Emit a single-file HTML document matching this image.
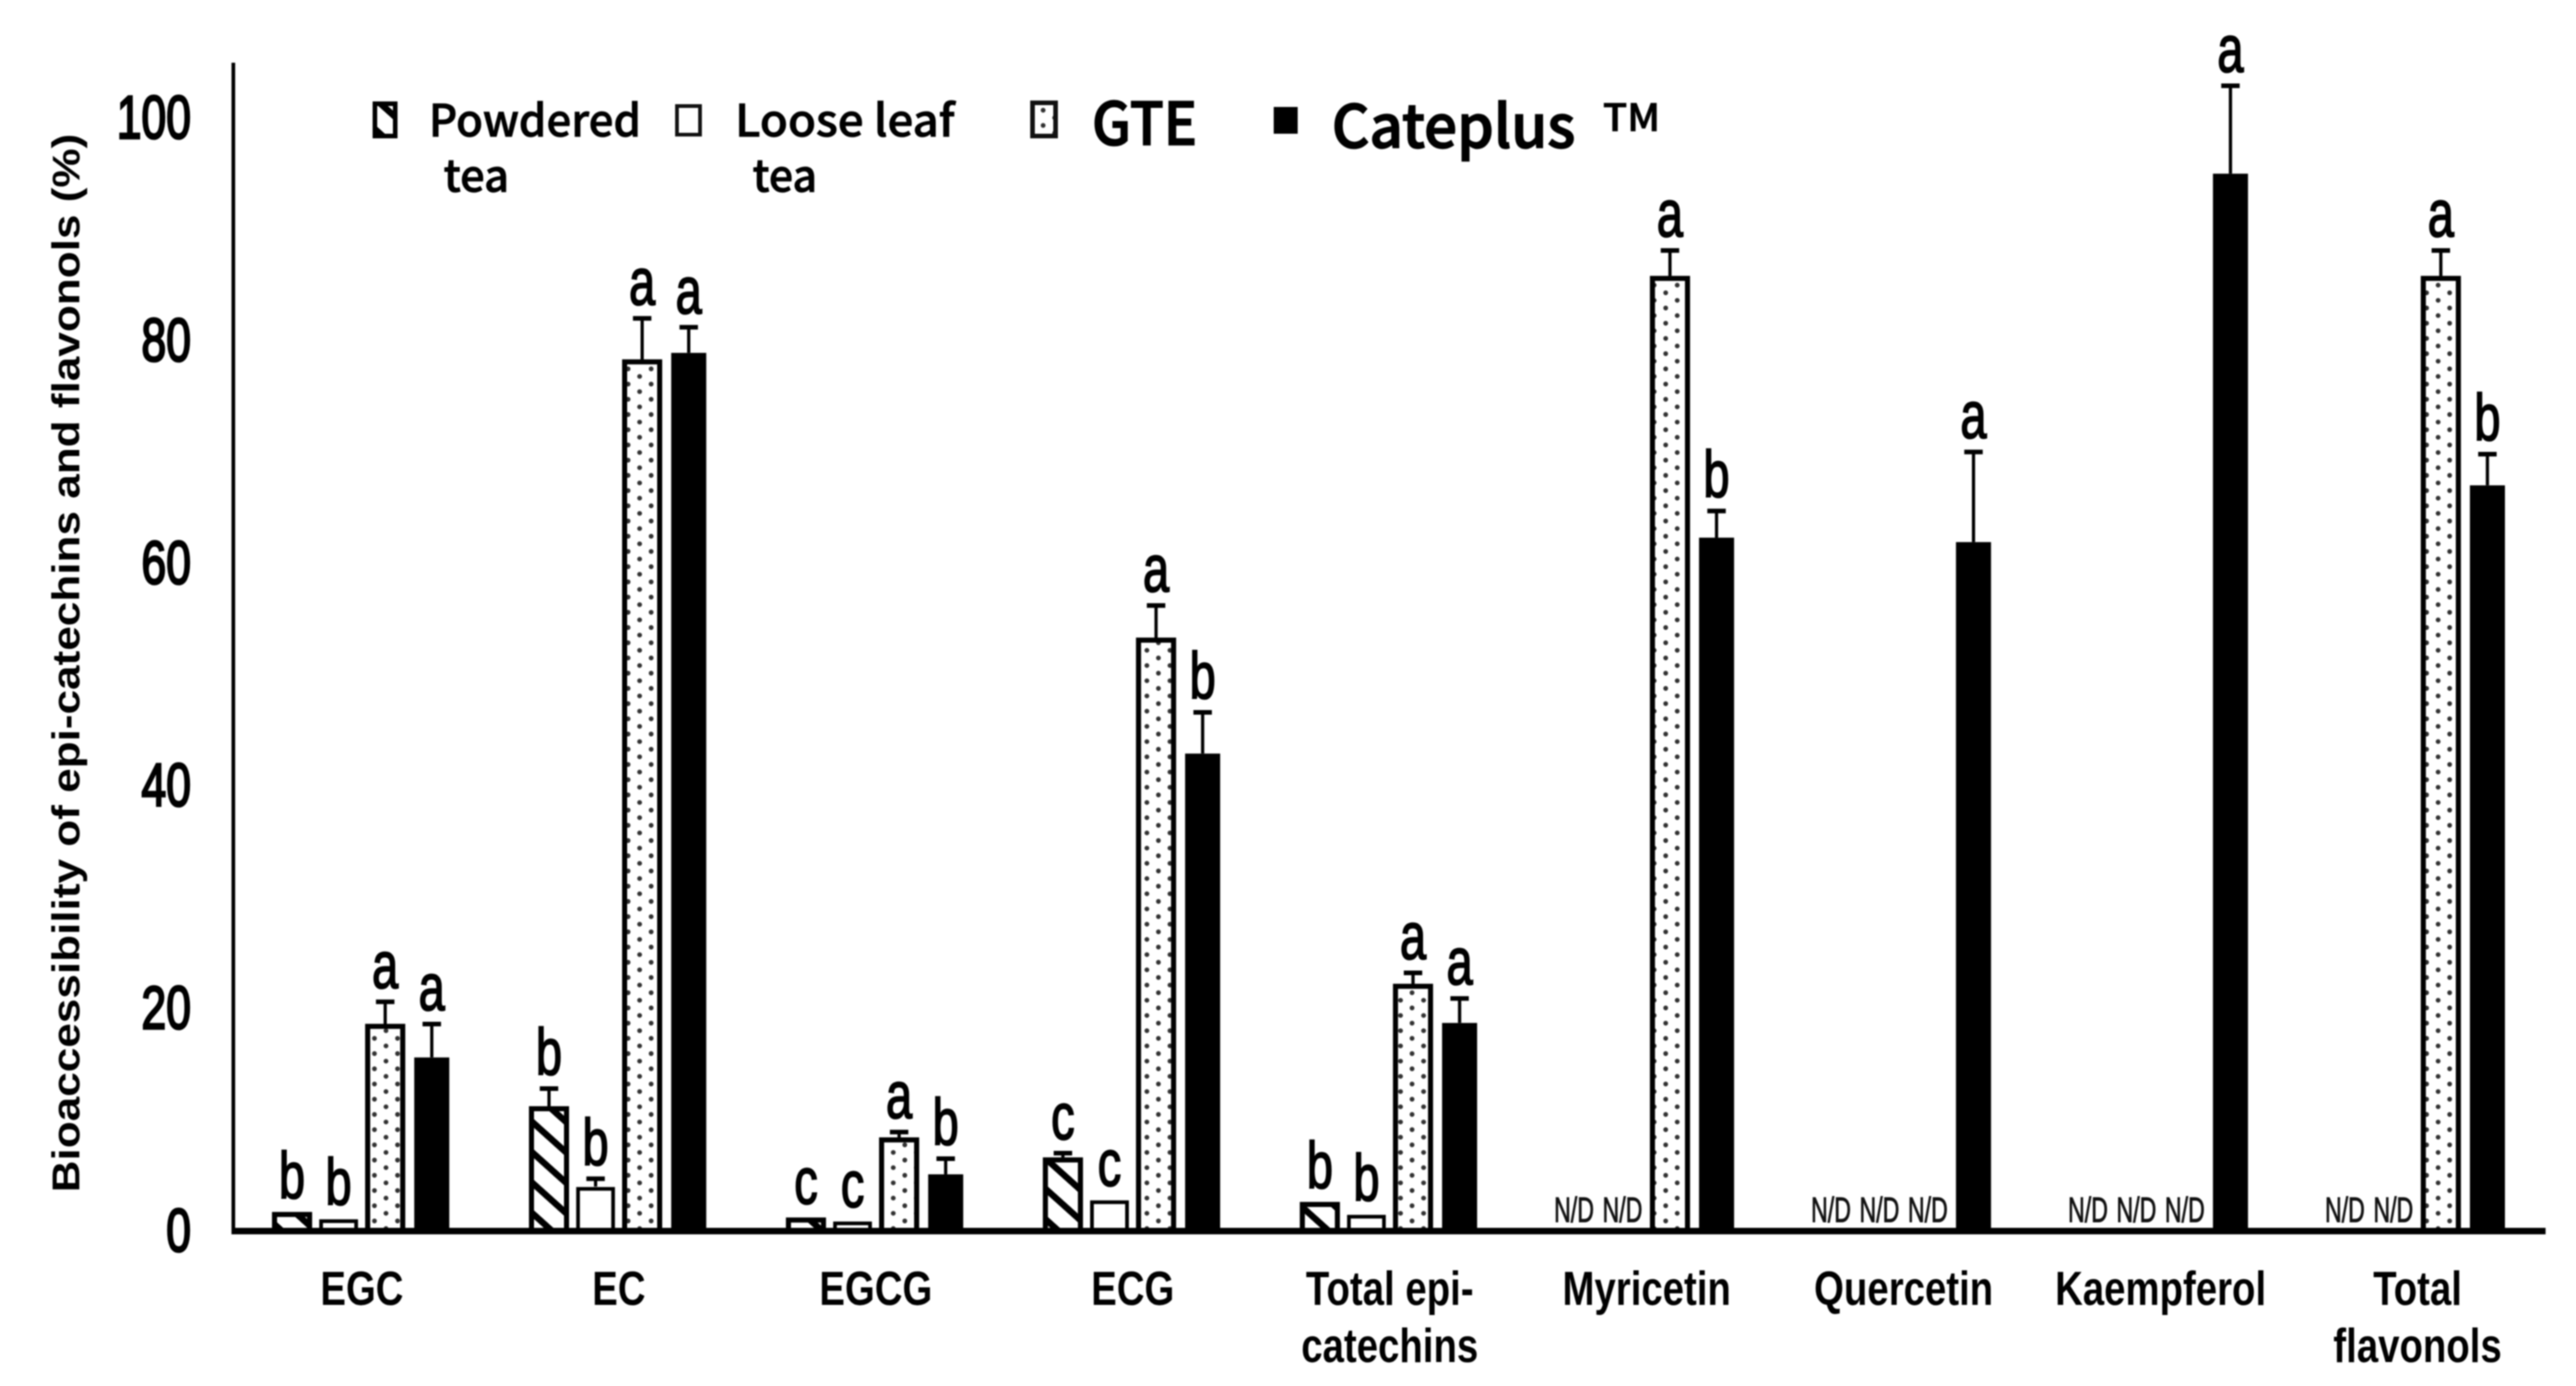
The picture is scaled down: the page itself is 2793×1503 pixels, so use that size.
<!DOCTYPE html>
<html lang="en">
<head>
<meta charset="utf-8">
<title>Bioaccessibility of epi-catechins and flavonols</title>
<style>
html,body{margin:0;padding:0;background:#fff;}
#chart{display:block;filter:blur(0.9px);}
text{fill:#000;font-family:"Liberation Sans",sans-serif;}
.tick{font-size:66px;font-weight:400;stroke:#000;stroke-width:2.6px;}
.cat{font-size:52px;font-weight:700;}
.sig{font-size:71px;font-weight:400;stroke:#000;stroke-width:1.8px;}
.nd{font-size:38px;fill:#111;stroke:#111;stroke-width:.9px;}
.ytitle{font-size:42px;font-weight:700;}
.leg{font-family:"Noto Sans CJK KR","Liberation Sans",sans-serif;font-weight:500;stroke:#000;stroke-width:.8px;}
.legk{font-family:"Noto Sans CJK KR","Liberation Sans",sans-serif;font-weight:500;stroke:#000;stroke-width:1.5px;}
</style>
</head>
<body>
<svg id="chart" xmlns="http://www.w3.org/2000/svg" width="2793" height="1503" viewBox="0 0 2793 1503">
  <defs>
    <pattern id="hatch" patternUnits="userSpaceOnUse" width="40" height="24.5" patternTransform="rotate(42)">
      <rect width="40" height="24.5" fill="#fff"/>
      <rect width="40" height="7" fill="#000"/>
    </pattern>
    <pattern id="dots" patternUnits="userSpaceOnUse" width="25" height="16.5">
      <rect width="25" height="16.5" fill="#fff"/>
      <circle cx="6" cy="4" r="2.6" fill="#333"/>
      <circle cx="18.5" cy="12.2" r="2.6" fill="#333"/>
    </pattern>
  </defs>

  <g id="plot"></g>

  <text class="ytitle" transform="translate(86,1293) rotate(-90)" textLength="1148" lengthAdjust="spacingAndGlyphs">Bioaccessibility of epi-catechins and flavonols (%)</text>

  <g>
    <g>
      <rect x="406.5" y="112.5" width="22" height="35" fill="url(#hatch)" stroke="#000" stroke-width="5"/>
      <text class="leg" x="465" y="148" font-size="48" textLength="230" lengthAdjust="spacingAndGlyphs">Powdered</text>
      <text class="leg" x="481" y="208" font-size="48" textLength="71" lengthAdjust="spacingAndGlyphs">tea</text>
    </g>
    <g>
      <rect x="734" y="115" width="25" height="31" fill="#fff" stroke="#111" stroke-width="4"/>
      <text class="leg" x="797" y="148" font-size="48" textLength="238" lengthAdjust="spacingAndGlyphs">Loose leaf</text>
      <text class="leg" x="816" y="208" font-size="48" textLength="70" lengthAdjust="spacingAndGlyphs">tea</text>
    </g>
    <g>
      <rect x="1119.5" y="111.5" width="25" height="36" fill="url(#dots)" stroke="#111" stroke-width="5"/>
      <text class="legk" x="1184" y="157" font-size="64" textLength="114" lengthAdjust="spacingAndGlyphs">GTE</text>
    </g>
    <g>
      <rect x="1381" y="116" width="26" height="29" fill="#000"/>
      <text class="legk" x="1444" y="160" font-size="64" textLength="264" lengthAdjust="spacingAndGlyphs">Cateplus</text>
      <text class="leg" x="1738" y="142" font-size="41" textLength="62" lengthAdjust="spacingAndGlyphs">TM</text>
    </g>
  </g>
</svg>

<script>
const categories = ["EGC", "EC", "EGCG", "ECG", "Total epi-|catechins", "Myricetin", "Quercetin", "Kaempferol", "Total|flavonols"];
const yTicks = [0, 20, 40, 60, 80, 100];

const powderedValues = [1.7, 11.2, 1.2, 6.6, 2.6, null, null, null, null];
const looseValues = [1.1, 4.0, 0.9, 2.8, 1.5, null, null, null, null];
const gteValues = [18.6, 78.3, 8.4, 53.3, 22.2, 85.8, null, null, 85.8];
const cateplusValues = [15.6, 78.9, 5.1, 42.9, 18.7, 62.3, 61.9, 95.0, 67.0];

const powderedErrors = [0, 1.6, 0, 0.4, 0, null, null, null, null];
const looseErrors = [0, 0.7, 0, 0, 0, null, null, null, null];
const gteErrors = [2.0, 3.7, 0.5, 2.9, 1.0, 2.3, null, null, 2.3];
const cateplusErrors = [3.0, 2.3, 1.4, 3.7, 2.2, 2.4, 8.1, 7.9, 2.8];

const powderedLetters = ["b", "b", "c", "c", "b", "", "", "", ""];
const looseLetters = ["b", "b", "c", "c", "b", "", "", "", ""];
const gteLetters = ["a", "a", "a", "a", "a", "a", "", "", "a"];
const cateplusLetters = ["a", "a", "b", "b", "a", "b", "a", "a", "b"];

const seriesNames = ["powdered-tea", "loose-leaf-tea", "gte", "cateplus"];
const seriesValues = [powderedValues, looseValues, gteValues, cateplusValues];
const seriesErrors = [powderedErrors, looseErrors, gteErrors, cateplusErrors];
const seriesLetters = [powderedLetters, looseLetters, gteLetters, cateplusLetters];

const NS = "http://www.w3.org/2000/svg";
const plot = document.getElementById("plot");
const yBase = 1335;
const yUnit = 12.07;
const letterGap = 15;
function yScale(v) { return yBase - v * yUnit; }
function catCenter(i) { return 392.4 + 278.6 * i; }
function barCenter(i, s) { return catCenter(i) + (s - 1.5) * 50.5; }
function make(tag, parent) {
  const el = document.createElementNS(NS, tag);
  parent.appendChild(el);
  return el;
}

// axes
const yAxis = make("line", plot);


yAxis.setAttribute("x1", 253);
yAxis.setAttribute("x2", 253);
yAxis.setAttribute("y1", 68);
yAxis.setAttribute("y2", yBase);
yAxis.setAttribute("stroke", "#000");
yAxis.setAttribute("stroke-width", 4);

yTicks.forEach(function (t) {
  const label = make("text", plot);
  
  
  label.setAttribute("class", "tick");
  label.setAttribute("text-anchor", "end");
  label.setAttribute("transform", "translate(207," + (yScale(t) + 22) + ") scale(0.73,1)");
  label.textContent = t;
});

// bars
seriesValues.forEach(function (values, s) {
  values.forEach(function (v, i) {
    const cx = barCenter(i, s);
    if (v === null) {
      if (seriesValues[3][i] === null) return;
      const nd = make("text", plot);
      
      
      nd.setAttribute("class", "nd");
      nd.setAttribute("text-anchor", "middle");
      nd.setAttribute("transform", "translate(" + (cx - 3 + s * 2) + "," + (yBase - 10) + ") scale(0.66,1)");
      nd.textContent = "N/D";
      return;
    }
    const top = yScale(v);
    const bar = make("rect", plot);
    
    
    if (s === 3) {
      bar.setAttribute("x", cx - 19);
      bar.setAttribute("y", top);
      bar.setAttribute("width", 38);
      bar.setAttribute("height", yBase - top);
      bar.setAttribute("fill", "#000");
    } else {
      bar.setAttribute("x", cx - 19);
      bar.setAttribute("y", top + 2.5);
      bar.setAttribute("width", 38);
      bar.setAttribute("height", Math.max(0, yBase - top - 2.5));
      bar.setAttribute("fill", s === 0 ? "url(#hatch)" : s === 2 ? "url(#dots)" : "#fff");
      bar.setAttribute("stroke", "#000");
      bar.setAttribute("stroke-width", s === 1 ? 4 : 5.5);
    }
    const err = seriesErrors[s][i];
    let errTop = top;
    if (err > 0) {
      errTop = yScale(v + err);
      const whisker = make("line", plot);
      
      
      whisker.setAttribute("x1", cx);
      whisker.setAttribute("x2", cx);
      whisker.setAttribute("y1", errTop);
      whisker.setAttribute("y2", top);
      whisker.setAttribute("stroke", "#000");
      whisker.setAttribute("stroke-width", 3.5);
      const cap = make("line", plot);
      
      
      cap.setAttribute("x1", cx - 10);
      cap.setAttribute("x2", cx + 10);
      cap.setAttribute("y1", errTop);
      cap.setAttribute("y2", errTop);
      cap.setAttribute("stroke", "#000");
      cap.setAttribute("stroke-width", 5);
    }
    const letter = seriesLetters[s][i];
    if (letter) {
      const sig = make("text", plot);
      
      
      sig.setAttribute("class", "sig");
      sig.setAttribute("text-anchor", "middle");
      sig.setAttribute("transform", "translate(" + cx + "," + (errTop - letterGap) + ") scale(0.72,1)");
      sig.textContent = letter;
    }
  });
});

// baseline on top of bars
const xAxis = make("line", plot);


xAxis.setAttribute("x1", 251);
xAxis.setAttribute("x2", 2760);
xAxis.setAttribute("y1", yBase);
xAxis.setAttribute("y2", yBase);
xAxis.setAttribute("stroke", "#000");
xAxis.setAttribute("stroke-width", 7);

// category labels
categories.forEach(function (name, i) {
  name.split("|").forEach(function (line, k) {
    const label = make("text", plot);
    
    
    label.setAttribute("class", "cat");
    label.setAttribute("text-anchor", "middle");
    label.setAttribute("transform", "translate(" + catCenter(i) + "," + (1415 + k * 62) + ") scale(0.8,1)");
    label.textContent = line;
  });
});
</script>
</body>
</html>
